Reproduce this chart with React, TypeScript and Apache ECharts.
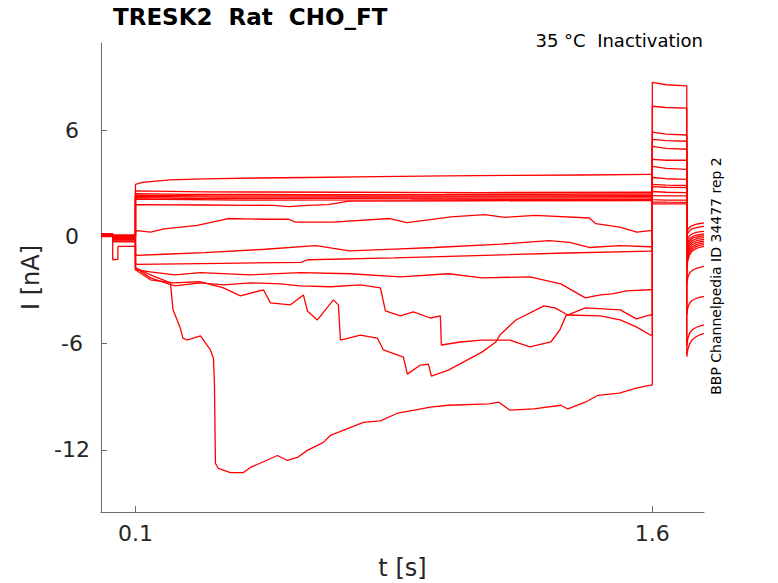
import React, { useEffect, useRef } from "react";
import * as echarts from "echarts";

const FONT = "DejaVu Sans";

const xTicks = [0.1, 1.6];
const yTicks = [-12, -6, 0, 6];

// holding level before the first step, and level between 0.034 s and 0.1 s
const holdLevels = [0.15, 0.12, 0.1, 0.1, 0.08, 0.05, 0.12, 0.1, 0.15, 0.05, 0.0, 0.1, 0.08, 0.12, 0.05];
const preLevels = [0.1, 0.05, 0.0, -0.05, -0.1, -0.15, 0.05, -0.2, -0.1, -0.55, -0.25, -0.3, -0.15, 0.0, -0.1];
const dipTrace = 9;
const dipPoints = [[0.034, -1.3], [0.049, -1.28]];

// conditioning pulse 0.1 s .. 1.6 s, [t, I]
const cond0 = [[0.1, 2.94], [0.12, 3.05], [0.2, 3.2], [0.3, 3.25], [0.45, 3.3], [0.6, 3.33], [0.8, 3.38], [1.0, 3.42], [1.2, 3.45], [1.4, 3.47], [1.594, 3.5]];
const cond1 = [[0.1, 2.58], [0.3, 2.52], [0.7, 2.5], [1.1, 2.48], [1.594, 2.5]];
const cond2 = [[0.1, 2.42], [0.25, 2.38], [0.6, 2.37], [1.0, 2.38], [1.594, 2.4]];
const cond3 = [[0.1, 2.34], [0.3, 2.3], [0.7, 2.29], [1.2, 2.3], [1.594, 2.31]];
const cond4 = [[0.1, 2.26], [0.35, 2.22], [0.8, 2.23], [1.3, 2.24], [1.594, 2.25]];
const cond5 = [[0.1, 2.2], [0.3, 2.14], [0.7, 2.15], [1.2, 2.17], [1.594, 2.18]];
const cond6 = [[0.1, 2.12], [0.4, 2.06], [0.9, 2.07], [1.3, 2.09], [1.594, 2.1]];
const cond7 = [[0.1, 1.8], [0.3, 1.78], [0.5, 1.76], [0.545, 1.69], [0.6, 1.76], [0.66, 1.8], [0.72, 2.0], [1.1, 2.02], [1.594, 2.03]];
const cond8 = [[0.1, 0.3], [0.105, 0.34], [0.144, 0.25], [0.183, 0.44], [0.28, 0.63], [0.369, 1.02], [0.476, 0.98], [0.545, 0.98], [0.564, 0.82], [0.672, 0.82], [0.838, 1.02], [0.888, 0.79], [1.016, 1.11], [1.113, 1.24], [1.172, 1.09], [1.26, 1.2], [1.417, 1.05], [1.436, 0.73], [1.506, 0.54], [1.555, 0.25], [1.594, 0.34]];
const cond9 = [[0.1, -1.0], [0.105, -1.05], [0.183, -0.99], [0.3, -0.9], [0.476, -0.71], [0.624, -0.51], [0.722, -0.8], [0.85, -0.7], [0.967, -0.61], [1.162, -0.42], [1.3, -0.23], [1.36, -0.32], [1.417, -0.61], [1.506, -0.51], [1.594, -0.57]];
const cond10 = [[0.1, -1.5], [0.105, -1.56], [0.35, -1.5], [0.58, -1.45], [0.6, -1.3], [0.85, -1.2], [1.064, -1.08], [1.35, -0.92], [1.594, -0.82]];
const cond11 = [[0.1, -1.86], [0.1435, -1.98], [0.2146, -2.15], [0.2886, -2.03], [0.4337, -2.15], [0.5787, -2.03], [0.7238, -2.09], [0.8689, -2.26], [1.0081, -2.09], [1.1054, -2.32], [1.2447, -2.26], [1.3346, -2.66], [1.4056, -3.45], [1.4491, -3.28], [1.4839, -3.22], [1.5245, -3.05], [1.5942, -2.99]];
const cond12 = [[0.1, -1.75], [0.1435, -2.32], [0.187, -2.6], [0.2146, -2.77], [0.2886, -2.6], [0.3553, -2.71], [0.4337, -2.6], [0.5207, -2.66], [0.5787, -2.77], [0.6658, -2.82], [0.7528, -2.71], [0.8109, -2.88], [0.8254, -4.18], [0.8689, -4.46], [0.9066, -4.24], [0.9559, -4.58], [0.9849, -4.46], [0.9878, -6.1], [1.0429, -5.93], [1.1054, -5.82], [1.1866, -5.82], [1.2447, -6.21], [1.3056, -5.93], [1.3317, -5.25], [1.3491, -4.46], [1.4056, -4.01], [1.5071, -4.12], [1.5536, -4.63], [1.5942, -4.41]];
const cond13 = [[0.1, -1.86], [0.1435, -2.43], [0.209, -2.6], [0.2886, -2.54], [0.3553, -2.88], [0.4046, -3.33], [0.4714, -2.99], [0.4917, -3.73], [0.5497, -3.84], [0.5874, -3.28], [0.599, -4.18], [0.628, -4.69], [0.6745, -3.56], [0.689, -3.84], [0.6948, -5.82], [0.7528, -5.54], [0.8021, -5.71], [0.8196, -6.38], [0.8776, -6.78], [0.8892, -7.74], [0.9269, -7.23], [0.9501, -7.18], [0.9588, -7.85], [1.0081, -7.51], [1.1054, -6.5], [1.146, -5.93], [1.1576, -5.54], [1.2041, -4.69], [1.2853, -3.9], [1.3172, -4.01], [1.3549, -4.41], [1.4491, -4.46], [1.5071, -4.69], [1.5536, -5.08], [1.5942, -5.54]];
const cond14 = [[0.1, -1.75], [0.1435, -2.15], [0.2015, -2.6], [0.209, -4.12], [0.229, -5.08], [0.2378, -5.71], [0.2494, -5.82], [0.2886, -5.59], [0.3176, -6.38], [0.3263, -6.84], [0.3292, -8.25], [0.3321, -12.77], [0.3408, -13.05], [0.3756, -13.28], [0.4133, -13.28], [0.4337, -12.99], [0.512, -12.32], [0.541, -12.6], [0.57, -12.43], [0.599, -12.03], [0.6455, -11.58], [0.6658, -11.19], [0.7615, -10.45], [0.8109, -10.37], [0.8602, -9.94], [0.9095, -9.77], [0.9559, -9.6], [1.0081, -9.49], [1.1257, -9.41], [1.1547, -9.32], [1.1866, -9.77], [1.2563, -9.7], [1.3346, -9.49], [1.3549, -9.7], [1.4056, -9.32], [1.442, -8.93], [1.5042, -8.81], [1.5536, -8.53], [1.5942, -8.36]];
const condTraces = [cond0, cond1, cond2, cond3, cond4, cond5, cond6, cond7, cond8, cond9, cond10, cond11, cond12, cond13, cond14];

// test pulse 1.6 s .. 1.7 s
const testTimes = [1.6, 1.64, 1.7];
const testLevels = [
  [1.85, 1.84, 1.84], [1.95, 1.94, 1.93], [2.08, 2.06, 2.05], [2.32, 2.3, 2.29], [2.54, 2.5, 2.48],
  [2.82, 2.78, 2.76], [2.94, 2.9, 2.88], [3.33, 3.26, 3.22], [3.95, 3.84, 3.79], [4.35, 4.3, 4.31],
  [5.08, 4.97, 4.92], [5.48, 5.4, 5.37], [5.88, 5.77, 5.72], [7.34, 7.27, 7.23], [8.68, 8.55, 8.49],
];

// tail currents 1.7 s .. 1.75 s
const tailTimes = [1.7, 1.703, 1.708, 1.716, 1.728, 1.74, 1.75];
const tailLevels = [
  [0.2, 0.4, 0.52, 0.62, 0.7, 0.74, 0.77],
  [0.0, 0.2, 0.33, 0.44, 0.51, 0.55, 0.58],
  [-0.4, -0.1, 0.05, 0.16, 0.24, 0.28, 0.3],
  [-0.6, -0.3, -0.12, 0.0, 0.08, 0.12, 0.15],
  [-0.8, -0.45, -0.25, -0.1, -0.02, 0.03, 0.05],
  [-1.0, -0.6, -0.38, -0.22, -0.12, -0.07, -0.05],
  [-1.15, -0.75, -0.5, -0.33, -0.23, -0.18, -0.15],
  [-1.3, -0.9, -0.63, -0.45, -0.34, -0.28, -0.25],
  [-1.5, -1.05, -0.76, -0.57, -0.45, -0.38, -0.35],
  [-1.7, -1.2, -0.9, -0.68, -0.55, -0.48, -0.45],
  [-1.9, -1.35, -1.02, -0.8, -0.66, -0.59, -0.55],
  [-2.7, -2.3, -2.05, -1.9, -1.78, -1.72, -1.68],
  [-4.4, -4.0, -3.75, -3.58, -3.47, -3.41, -3.37],
  [-6.2, -5.75, -5.45, -5.24, -5.1, -5.02, -4.97],
  [-6.76, -6.35, -6.05, -5.8, -5.62, -5.51, -5.44],
];

const buildTrace = (i: number) => {
  const pts: number[][] = [[0, holdLevels[i]], [0.034, holdLevels[i]]];
  if (i === dipTrace) pts.push(...dipPoints, [0.049, preLevels[i]]);
  else pts.push([0.034, preLevels[i]]);
  pts.push([0.1, preLevels[i]]);
  const c = condTraces[i];
  pts.push(...c);
  pts.push([1.6, c[c.length - 1][1]]);
  testTimes.forEach((t, k) => pts.push([t, testLevels[i][k]]));
  tailTimes.forEach((t, k) => pts.push([t, tailLevels[i][k]]));
  return pts;
};

const App = () => {
  const chartRef = useRef<HTMLDivElement>(null);

  useEffect(() => {
    document.body.style.margin = "0";
    // @ts-ignore
    const chart = echarts.init(chartRef.current, null, { renderer: "svg" });

    const axisColor = "#6b6b6b";
    const labelColor = "#262626";

    const options = {
      animation: false,
      color: ["#ff0000"],
      title: {
        text: "TRESK2 \u00a0Rat \u00a0CHO_FT",
        left: 113,
        top: 5,
        padding: 0,
        textStyle: { fontFamily: FONT, fontSize: 23, fontWeight: "bold", color: "#000" },
      },
      grid: { left: 101, top: 43, width: 603, height: 469, containLabel: false, outerBoundsMode: "none" },
      xAxis: {
        type: "value",
        min: 0,
        max: 1.75,
        name: "t [s]",
        nameLocation: "middle",
        nameGap: 44,
        nameTextStyle: { fontFamily: FONT, fontSize: 24, color: labelColor },
        axisLine: { onZero: false, lineStyle: { color: axisColor, width: 1 } },
        axisTick: { inside: true, length: 6, customValues: xTicks, lineStyle: { color: axisColor } },
        axisLabel: { customValues: xTicks, fontFamily: FONT, fontSize: 22, margin: 10, color: labelColor },
        splitLine: { show: false },
      },
      yAxis: {
        type: "value",
        min: -15.5,
        max: 10.9,
        name: "I [nA]",
        nameLocation: "middle",
        nameGap: 49,
        nameTextStyle: { fontFamily: FONT, fontSize: 24, color: labelColor },
        axisLine: { show: true, onZero: false, lineStyle: { color: axisColor, width: 1 } },
        axisTick: { show: true, inside: true, length: 6, customValues: yTicks, lineStyle: { color: axisColor } },
        axisLabel: { customValues: yTicks, fontFamily: FONT, fontSize: 22, margin: 29, align: "center", color: labelColor },
        splitLine: { show: false },
      },
      graphic: [
        {
          type: "text",
          right: 75,
          top: 31,
          style: { text: "35 °C \u00a0Inactivation", fontFamily: FONT, fontSize: 18, fill: "#000" },
        },
        {
          type: "text",
          x: 716,
          y: 276,
          rotation: Math.PI / 2,
          style: {
            text: "BBP Channelpedia ID 34477 rep 2",
            fontFamily: FONT,
            fontSize: 14,
            fill: "#000",
            align: "center",
            verticalAlign: "middle",
          },
        },
      ],
      series: condTraces.map((_, i) => ({
        type: "line",
        data: buildTrace(i),
        showSymbol: false,
        symbol: "none",
        lineStyle: { width: 1.3, color: "#ff0000" },
        silent: true,
        clip: true,
      })),
    };

    chart.setOption(options);

    return () => {
      chart.dispose();
    };
  }, []);

  return <div ref={chartRef} style={{ width: "778px", height: "583px" }} />;
};

export default App;
